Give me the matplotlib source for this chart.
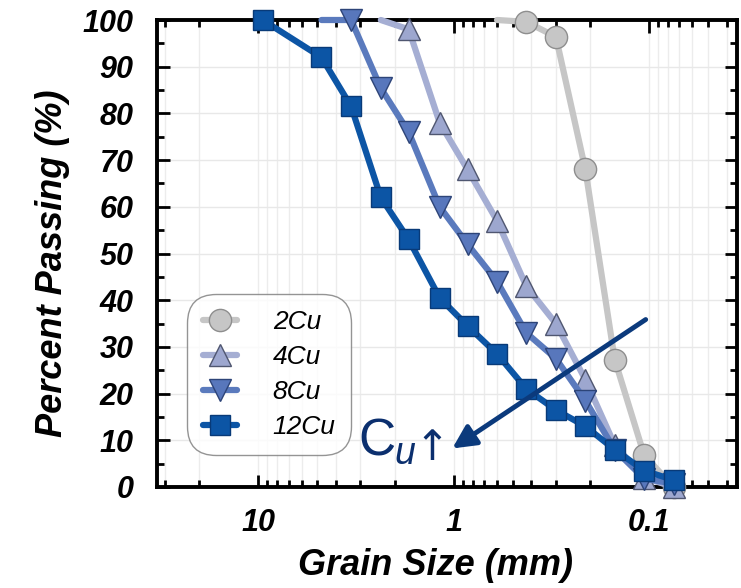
import matplotlib
matplotlib.use("Agg")
import matplotlib.pyplot as plt
from matplotlib.ticker import LogLocator, FixedLocator, NullFormatter, MultipleLocator
from matplotlib.patches import FancyArrowPatch

plt.rcParams['font.family'] = ['Liberation Sans', 'DejaVu Sans']

# ---- data (grain size in mm, percent passing) ----
size_2cu = [0.60, 0.425, 0.30, 0.212, 0.15, 0.106, 0.075]
pass_2cu = [100, 99.6, 96.4, 68, 27.3, 6.8, 0]

size_4cu = [2.36, 1.70, 1.18, 0.85, 0.60, 0.425, 0.30, 0.212, 0.15, 0.106, 0.075]
pass_4cu = [100, 98, 78, 68, 57, 43, 35, 23, 9, 2, 0]

size_8cu = [4.75, 3.35, 2.36, 1.70, 1.18, 0.85, 0.60, 0.425, 0.30, 0.212, 0.15, 0.106, 0.075]
pass_8cu = [100, 100, 85.4, 76, 60, 52, 44, 33, 27.5, 18.5, 8, 1.8, 0.7]

size_12cu = [9.5, 4.75, 3.35, 2.36, 1.70, 1.18, 0.85, 0.60, 0.425, 0.30, 0.212, 0.15, 0.106, 0.075]
pass_12cu = [100, 92, 81.5, 62, 53, 40.5, 34.5, 28.5, 21, 16.5, 13, 8, 3.5, 1.5]

labels = ['2Cu', '4Cu', '8Cu', '12Cu']
x_ticks = [10, 1, 0.1]
x_ticklabels = ['10', '1', '0.1']
y_ticks = list(range(0, 101, 10))

W, H = 741, 588
fig = plt.figure(figsize=(W/100, H/100), dpi=100)
ax = fig.add_axes([157/W, 1-487/H, (737-157)/W, (487-20)/H])

styles = [
    dict(size=size_2cu, val=pass_2cu, marker='o', lc='#c6c6c6', mfc='#c6c6c6', mec='#8e8e8e', skip=1, ms=16),
    dict(size=size_4cu, val=pass_4cu, marker='^', lc='#a5aed3', mfc='#9da7cf', mec='#4f5670', skip=1, ms=16),
    dict(size=size_8cu, val=pass_8cu, marker='v', lc='#5a7abd', mfc='#5877bc', mec='#2d4478', skip=1, ms=16),
    dict(size=size_12cu, val=pass_12cu, marker='s', lc='#0c55a5', mfc='#0c55a5', mec='#083a78', skip=0, ms=15),
]
handles = []
for st, lab in zip(styles, labels):
    # the first point (100 % at the previous sieve) carries no marker for the finer soils
    ln, = ax.plot(st['size'], st['val'], color=st['lc'], lw=4.5,
                  marker=st['marker'], ms=st['ms'], mfc=st['mfc'], mec=st['mec'],
                  mew=1.0, markevery=slice(st['skip'], None), clip_on=False, zorder=3,
                  solid_joinstyle='round', solid_capstyle='round', label=lab)
    handles.append(ln)

ax.set_xscale('log')
ax.set_xlim(33, 0.0355)
ax.set_ylim(0, 100)

ax.xaxis.set_major_locator(FixedLocator(x_ticks))
ax.set_xticklabels(x_ticklabels)
ax.xaxis.set_minor_locator(LogLocator(base=10, subs=range(2, 10)))
ax.xaxis.set_minor_formatter(NullFormatter())
ax.yaxis.set_major_locator(FixedLocator(y_ticks))
ax.yaxis.set_minor_locator(MultipleLocator(5))

ax.tick_params(which='both', direction='in', top=True, right=True, width=2)
ax.tick_params(which='major', length=9)
ax.tick_params(which='minor', length=5)
ax.tick_params(axis='y', which='major', pad=17)
ax.tick_params(axis='x', which='major', pad=15)
for lab in ax.get_xticklabels() + ax.get_yticklabels():
    lab.set_fontsize(22)
    lab.set_fontweight('bold')
    lab.set_fontstyle('italic')

for sp in ax.spines.values():
    sp.set_linewidth(2.8)

ax.grid(True, which='major', axis='y', color='#e8e8e8', lw=1, zorder=0)
ax.grid(True, which='both', axis='x', color='#ececec', lw=1, zorder=0)

ax.set_xlabel('Grain Size (mm)', fontsize=26, fontweight='bold', fontstyle='italic')
ax.xaxis.set_label_coords(0.48, -0.13)
ax.set_ylabel('Percent Passing (%)', fontsize=26, fontweight='bold', fontstyle='italic')
ax.yaxis.set_label_coords(-0.15, 0.48)

leg = ax.legend(handles=handles, loc='lower left', bbox_to_anchor=(30/580, 32/467),
                borderaxespad=0, frameon=True, fancybox=True, handlelength=1.3,
                handletextpad=1.35, labelspacing=0.42, borderpad=0.6,
                edgecolor='#7a7a7a', prop=dict(style='italic', size=19))
leg.get_frame().set_linewidth(1.0)
leg.get_frame().set_boxstyle('round,pad=0,rounding_size=1.1')

# annotation arrow: Cu increasing
arrow = FancyArrowPatch((648/W, 1-318/H), (450/W, 1-450/H), transform=fig.transFigure,
                        arrowstyle='-|>,head_length=14,head_width=7',
                        color='#0b3a7c', lw=3.5, mutation_scale=1, zorder=5)
fig.patches.append(arrow)
fig.text(358/W, 1-455/H, 'C', fontsize=37, color='#0b2f6e', ha='left', va='baseline')
fig.text(394/W, 1-464/H, 'u', fontsize=27, color='#0b2f6e', ha='left', va='baseline',
         fontstyle='italic')
fig.text(414/W, 1-460/H, '\u2191', fontsize=30, color='#0b2f6e',
         ha='left', va='baseline', family=['DejaVu Sans'])

fig.savefig('out.png', dpi=100)
